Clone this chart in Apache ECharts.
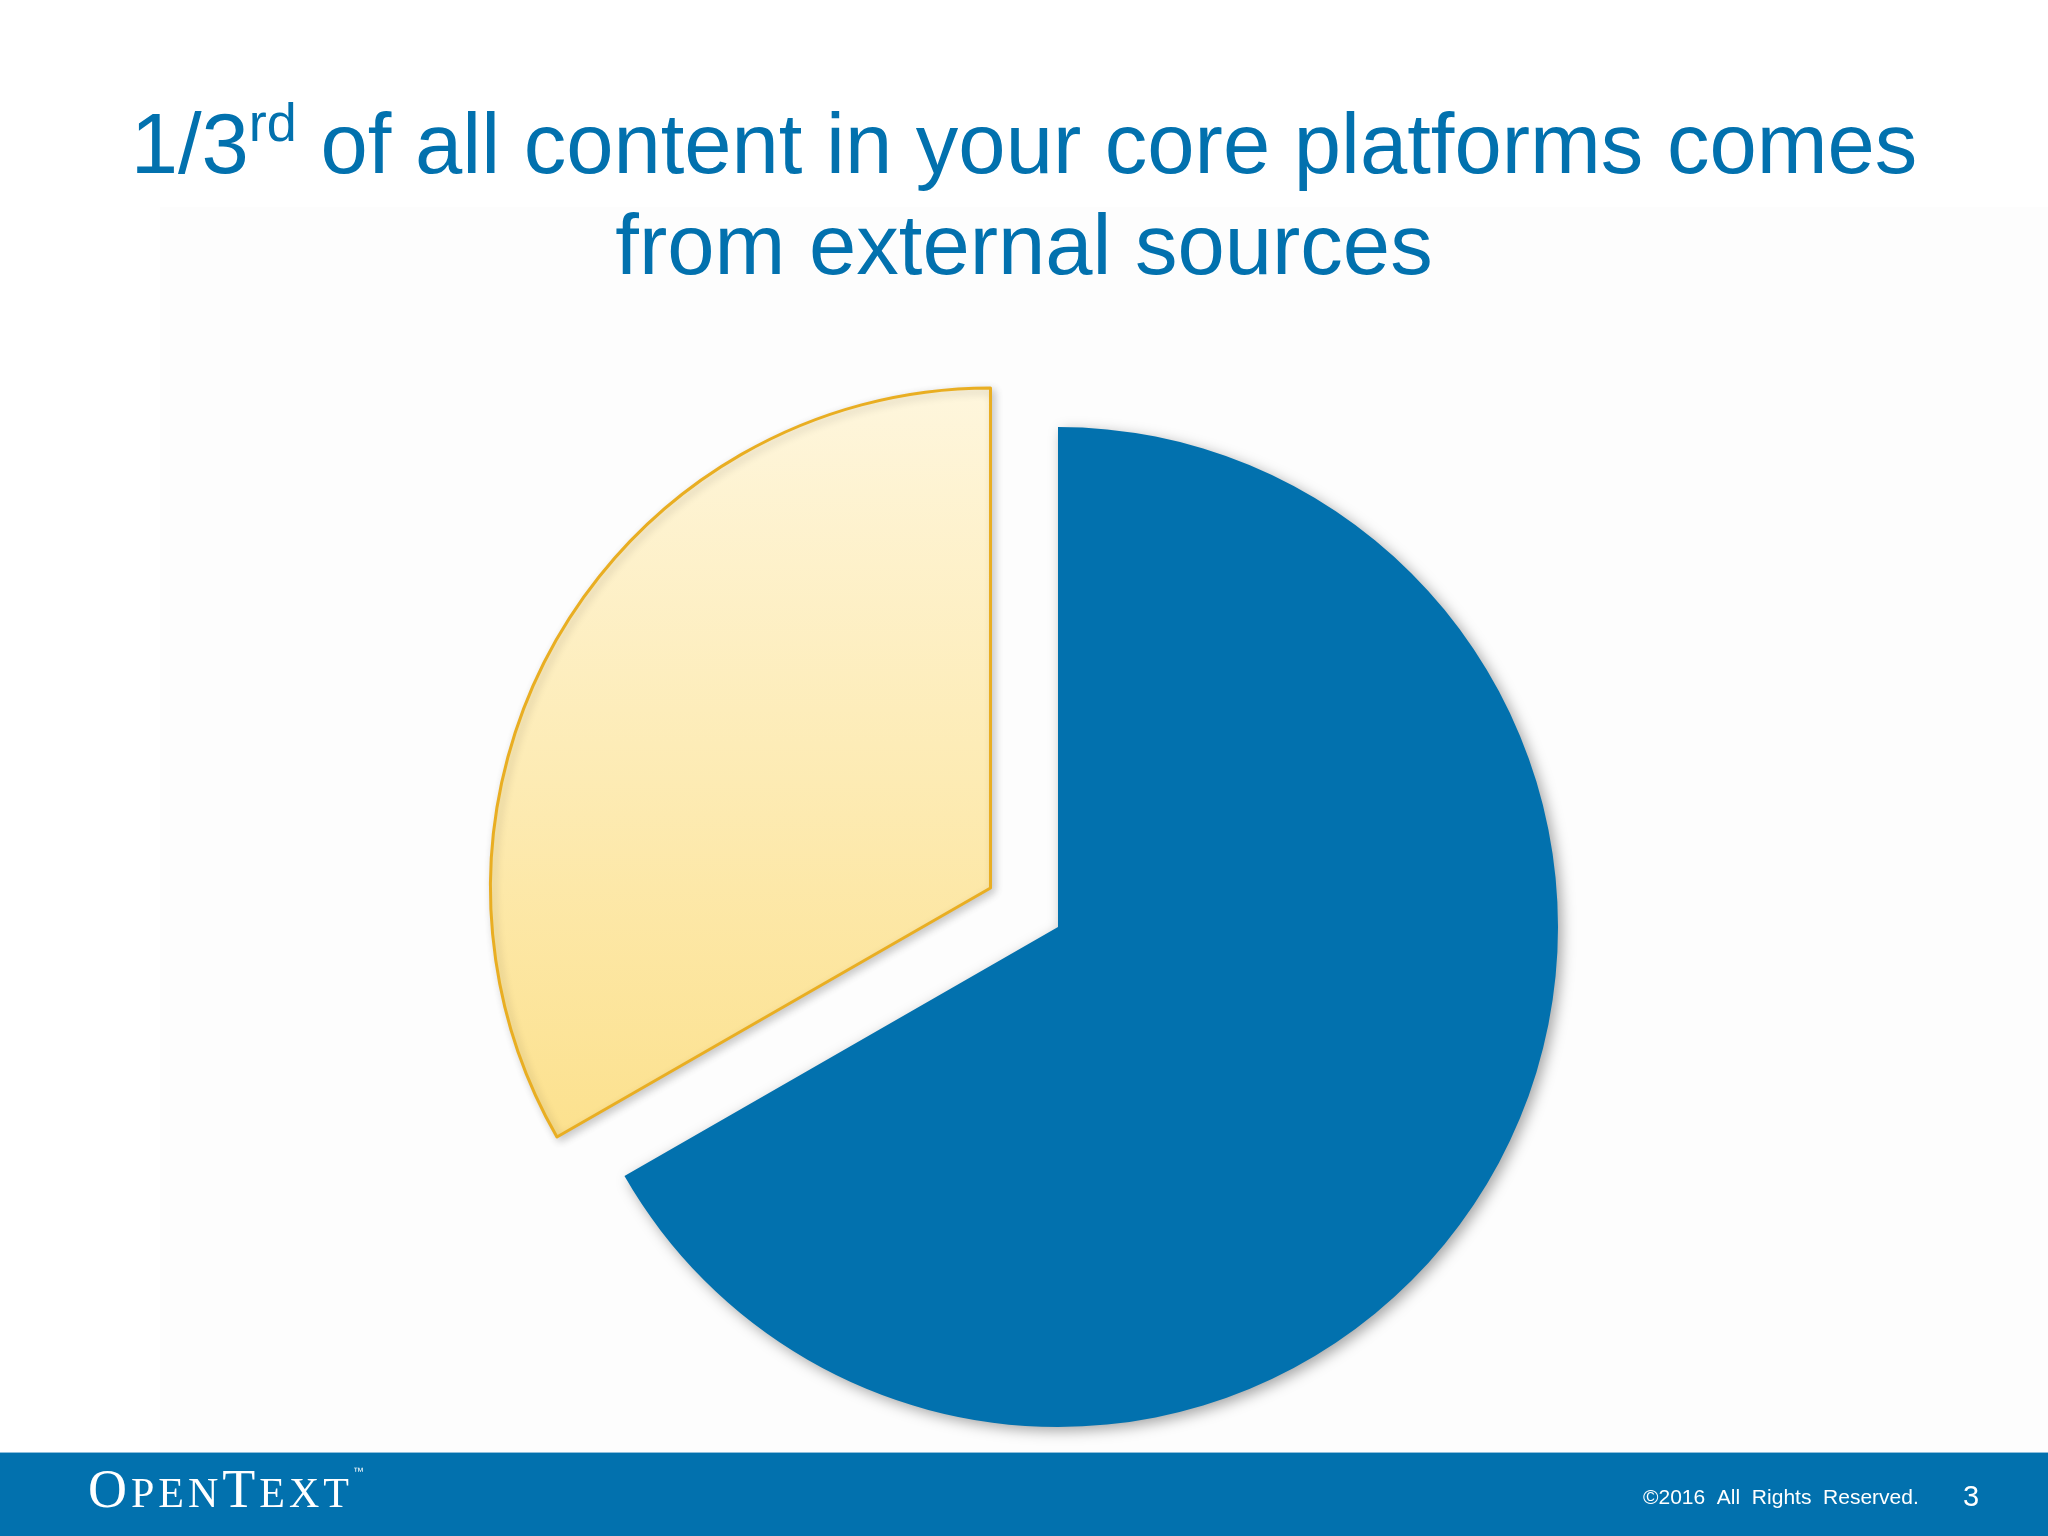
<!DOCTYPE html>
<html>
<head>
<meta charset="utf-8">
<script src="https://cdn.jsdelivr.net/npm/echarts@6/dist/echarts.min.js"></script>
<style>
  html, body { margin: 0; padding: 0; background: #ffffff; }
  #chart { width: 2048px; height: 1536px; }
</style>
</head>
<body>
<div id="chart"></div>
<script>
// ---- data ----
const categories = ['Internal content', 'External content'];
const shares = [66.7, 33.3];
const titleLine1 = ['1/3', 'rd', ' of all content in your core platforms comes'];
const titleLine2 = 'from external sources';
const footerText = '\u00A92016  All  Rights  Reserved.';
const pageNumber = '3';
const logoLetters = [['O', 'b'], ['P', 's'], ['E', 's'], ['N', 's'], ['T', 'b'], ['E', 's'], ['X', 's'], ['T', 's']];

const chart = echarts.init(document.getElementById('chart'), null, { renderer: 'canvas' });

const BLUE = '#0271AE';
const sansFont = '"Liberation Sans", Arial, sans-serif';
const serifFont = '"Liberation Serif", "Times New Roman", serif';

const pieData = categories.map((name, i) => {
  if (i === 0) {
    return {
      name, value: shares[i],
      itemStyle: {
        color: BLUE,
        shadowBlur: 14, shadowColor: 'rgba(0,0,0,0.35)', shadowOffsetX: 4, shadowOffsetY: 4
      }
    };
  }
  return {
    name, value: shares[i], selected: true,
    itemStyle: {
      color: new echarts.graphic.LinearGradient(0, 0, 0, 1, [
        { offset: 0, color: '#FEF6DD' },
        { offset: 1, color: '#FCE18E' }
      ]),
      borderColor: '#E9AE22', borderWidth: 3,
      shadowBlur: 8, shadowColor: 'rgba(0,0,0,0.2)', shadowOffsetX: 3, shadowOffsetY: 3
    }
  };
});

const logoRich = {
  b: { fontFamily: serifFont, fontSize: 54, fill: '#ffffff', lineHeight: 60, verticalAlign: 'bottom', padding: [0, 4, 0, 0] },
  s: { fontFamily: serifFont, fontSize: 42, fill: '#ffffff', lineHeight: 60, verticalAlign: 'bottom', padding: [0, 4, 3, 0] },
  tm: { fontFamily: sansFont, fontSize: 11, fill: '#ffffff', lineHeight: 60, verticalAlign: 'top', padding: [6, 0, 0, 0] }
};
const logoText = logoLetters.map(([ch, st]) => '{' + st + '|' + ch + '}').join('') + '{tm|\u2122}';

const option = {
  backgroundColor: '#ffffff',
  animation: false,
  title: {
    left: 'center',
    top: 99,
    padding: 0,
    text: '{a|' + titleLine1[0] + '}{s|' + titleLine1[1] + '}{a|' + titleLine1[2] + '}\n{a|' + titleLine2 + '}',
    textStyle: {
      fontWeight: 'normal',
      rich: {
        a: { fontFamily: sansFont, fontSize: 85, fontWeight: 'normal', color: BLUE, lineHeight: 101 },
        s: { fontFamily: sansFont, fontSize: 54, fontWeight: 'normal', color: BLUE, lineHeight: 88, verticalAlign: 'top' }
      }
    }
  },
  graphic: [
    { type: 'rect', z: -10, shape: { x: 160, y: 207, width: 1888, height: 1245 }, style: { fill: '#FDFDFD' } },
    { type: 'rect', z: 10, shape: { x: 0, y: 1452, width: 2048, height: 84 }, style: { fill: BLUE } },
    { type: 'rect', z: 11, shape: { x: 0, y: 1452, width: 2048, height: 1 }, style: { fill: '#8DBEDC' } },
    { type: 'text', z: 12, x: 88, y: 1460, style: { text: logoText, fill: '#ffffff', rich: logoRich } },
    { type: 'text', z: 12, x: 1643, y: 1498, style: { text: footerText, fill: '#ffffff', font: '21px ' + sansFont, verticalAlign: 'middle', align: 'left' } },
    { type: 'text', z: 12, x: 1963, y: 1498, style: { text: pageNumber, fill: '#ffffff', font: '29px ' + sansFont, verticalAlign: 'middle', align: 'left' } }
  ],
  series: [{
    type: 'pie',
    center: [1058, 927],
    radius: 500,
    startAngle: 90,
    clockwise: true,
    selectedMode: 'single',
    selectedOffset: 78,
    label: { show: false },
    labelLine: { show: false },
    emphasis: { disabled: true },
    silent: true,
    data: pieData
  }]
};

chart.setOption(option);
</script>
</body>
</html>
